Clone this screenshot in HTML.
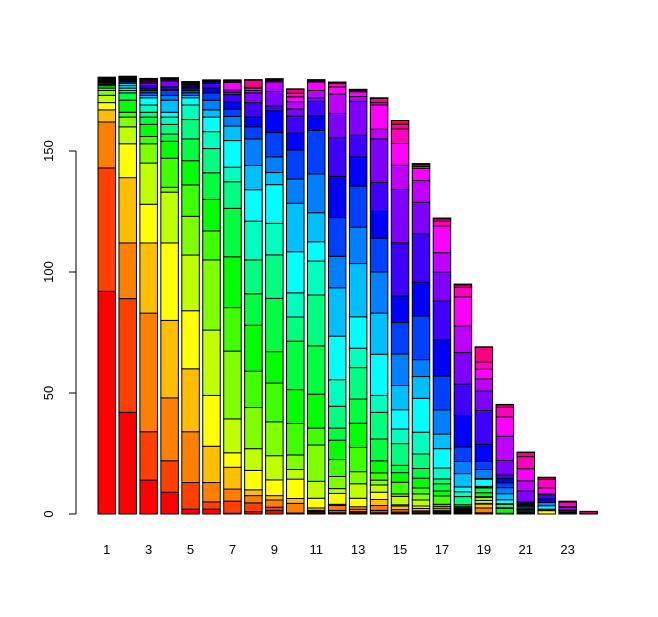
<!DOCTYPE html>
<html><head><meta charset="utf-8"><style>
html,body{margin:0;padding:0;background:#fff;}
svg{display:block;font-family:"Liberation Sans",Arial,sans-serif;}
</style></head><body>
<svg id="chart" width="658" height="617" viewBox="0 0 658 617" xmlns="http://www.w3.org/2000/svg">
<g id="bars"></g>
<g id="yaxis"></g>
<g id="xaxis"></g>
</svg>
<script>
const categories = [1,2,3,4,5,6,7,8,9,10,11,12,13,14,15,16,17,18,19,20,21,22,23,24];
const yTicks = [0,50,100,150];
const xLabels = ["1","","3","","5","","7","","9","","11","","13","","15","","17","","19","","21","","23",""];
const b1 = [92,51,19,5,3,3,2,1,1,0.5,0.5,0.3,0.3,0.3,0.2,0.2,0.2,0.2,0.2,0.2,0.1,0.1,0.1,0.1];
const b2 = [42,47,23,27,14,7,4,2,5,3,1,1,1,1,0.5,0.5,0.5,0.3,0.3,0.2,0.2,0.2,0.1,0.1];
const b3 = [14,20,49,29,16,17,8,3,5,3,2,3,3,1,1,1,1,1,1,0.5,0.5,0.5,0.3,0.2];
const b4 = [9,13,26,32,32,21,2,12,7,3,4,3,2,5,2,2,0.5,1,2.5,0.5,0.3,0.2,0.2,0.1];
const b5 = [2,11,21,26,24,23,16,13,10,9,8,6,3,1,1,1,1,0.5,0.5,0.5,0.5,0.3,0.2,0.2];
const b6 = [2,3,8,15,21,27,29,12,13,11,10,7,6,3,4,3,2,2,0.5,0.3,0.2,0.2,0.1,0.1];
const b7 = [0.3,5,5,9,6,14,28,18,21,20,11,6,11,6,4,3,3,3,1,1,3,0.5,0.3,0.3];
const b8 = [1,3.6,3,2.4,8,9,17,15,19,13,14,16,13,10,11,5,4,6,4,1,1,0.3,3,0.2];
const b9 = [1.5,1.3,3,1.8,6.5,10,14,16,13,22,18,13,16,5,6.5,10,9,2,6,4,0.5,0.3,0.3,0.2];
const b10 = [0.2,0.2,4,2,8,4,6,13,14,20,10,10,17,20,10,12,7,7,3,3,2,1.5,1.5,0.3];
const b11 = [0.5,0.5,0.5,1,4,7,15,7,14,20,21,14,8,12,16,18,6,6,1.5,3,3.5,0.5,0.3,0.2];
const b12 = [0.5,1,2,0.5,4.5,2,5,7,8,5,9,11,18,20,13,16,17,16,10,8,3,1.5,0.3,0.2];
const b13 = [0.5,0.5,1,1,3.5,6,5,10,10,10,13,8,13,22,15,17,12,9,14,2,2,0.5,0.3,0.2];
const b14 = [0.5,1,2,2.5,3,3,2,3,5,9,11,7,17,17,17,14,11,12,18,4,10,1,1.7,0.3];
const b15 = [0.3,0.5,1,1.5,0.5,3.5,1,4.8,4,3,9,6,8,10,13,13,11,22,22,10,9,6,2,1.5];
const b16 = [0.3,0.5,0.5,1,1,2.5,2.5,2.5,4,4,6,9,14,9,7,18,14,20,13,9,5,0.8,0.7,0.5];
const b17 = [0.3,0.3,0.5,0.5,0.8,0.8,0.8,3.5,2,3,2,4.5,8,6,10,14,15,16,12,8,11,2,1,0.3];
const b18 = [0.3,0.3,0.3,0.3,0.3,0.3,0.3,0.4,0.5,0.8,3.4,2,2,5.5,5,6,13,13,13,11,12,4,1,0.3];
const b19 = [0.2,0.3,2,1.6,0.3,1.2,1.3,0.3,1.6,2,0.3,0.3,3,0.3,3.7,3.4,7,14,8,5,4,3,6,0.3];
const b20 = [0,0,0,0,0,0,0,0.3,2,0.3,1.4,0.3,1.6,2.5,2.5,2,1.8,1.4,6,10,8,4,1,0.2];
const b21 = [0,0,0,0,0.3,0,0,0,0.3,0.3,0.5,0.5,0.5,0.6,0.5,0.5,0.5,0.5,4.5,4.2,5,5,1.7,0.2];
const b22 = [0,0,0,0,1.4,0,0,0,0,0.3,0,0.3,1.4,0,1.4,0,1.4,1.8,0,0.3,2.5,3.5,0.7,0.2];
const b23 = [0,0,0,0,0,0,0,0,0,0,0,0,0,0,0,0,0.7,0.7,0.3,1,0.3,2,0.3,0];
const b24 = [0,0,0,0,0,0,0,0,0,0,0,0,0,0,0,0,0,0,0,0,0,0.3,0.8,0];
const series = [b1,b2,b3,b4,b5,b6,b7,b8,b9,b10,b11,b12,b13,b14,b15,b16,b17,b18,b19,b20,b21,b22,b23,b24];

const NS = "http://www.w3.org/2000/svg";
const yScale = v => 514 - v * 2.42;
const xLeft = i => 98 + i * 20.95;
const barW = 17.5;
const color = k => "hsl(" + (k * 15) + ",100%,50%)";

const gb = document.getElementById("bars");
series.forEach((vals, i) => {
  let cum = 0;
  vals.forEach((h, k) => {
    if (h <= 0) return;
    const r = document.createElementNS(NS, "rect");
    r.setAttribute("x", xLeft(i));
    r.setAttribute("y", yScale(cum + h));
    r.setAttribute("width", barW);
    r.setAttribute("height", yScale(cum) - yScale(cum + h));
    r.setAttribute("fill", color(k));
    r.setAttribute("stroke", "#000");
    r.setAttribute("stroke-width", "1");
    
    
    gb.appendChild(r);
    cum += h;
  });
});

const gy = document.getElementById("yaxis");
const axl = document.createElementNS(NS, "line");
axl.setAttribute("x1", 76); axl.setAttribute("x2", 76);
axl.setAttribute("y1", yScale(yTicks[0])); axl.setAttribute("y2", yScale(yTicks[yTicks.length - 1]));
axl.setAttribute("stroke", "#000");


gy.appendChild(axl);
yTicks.forEach(t => {
  const y = yScale(t);
  const tk = document.createElementNS(NS, "line");
  tk.setAttribute("x1", 69); tk.setAttribute("x2", 76);
  tk.setAttribute("y1", y); tk.setAttribute("y2", y);
  tk.setAttribute("stroke", "#000");
  
  
  gy.appendChild(tk);
  const tx = document.createElementNS(NS, "text");
  tx.setAttribute("x", 0); tx.setAttribute("y", 0);
  tx.setAttribute("transform", "translate(53," + y + ") rotate(-90)");
  tx.setAttribute("text-anchor", "middle");
  tx.setAttribute("font-size", "13");
  tx.textContent = t;
  
  
  gy.appendChild(tx);
});

const gx = document.getElementById("xaxis");
xLabels.forEach((l, i) => {
  if (!l) return;
  const tx = document.createElementNS(NS, "text");
  tx.setAttribute("x", xLeft(i) + barW / 2);
  tx.setAttribute("y", 554);
  tx.setAttribute("text-anchor", "middle");
  tx.setAttribute("font-size", "13");
  tx.textContent = l;
  
  
  gx.appendChild(tx);
});
</script>
</body></html>
